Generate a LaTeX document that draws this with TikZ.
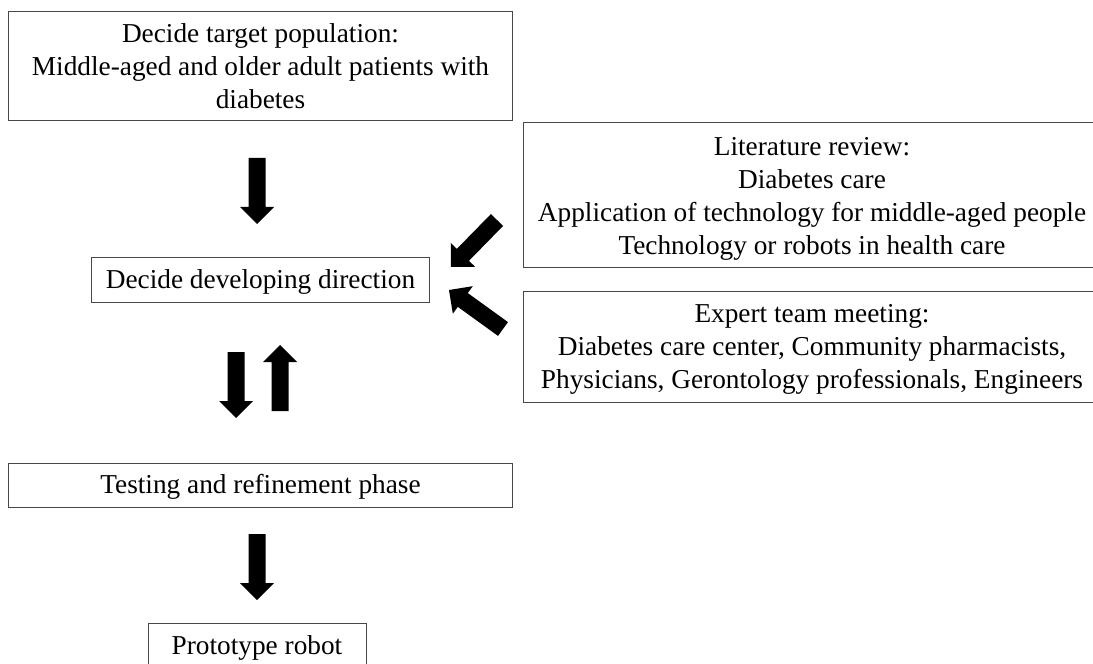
\documentclass[tikz,border=0pt]{standalone}
\usepackage{fontspec}
\setmainfont{Liberation Serif}
\usetikzlibrary{calc}
\tikzset{
  box/.style={draw=black!72, line width=1bp, inner sep=0pt, align=center,
    font=\fontsize{27.3bp}{33bp}\selectfont},
  lower/.style={execute at begin node={\rule{0pt}{#1}}},
}
\newcommand\blockarrow[3]{%
  \coordinate (#1t) at #2;
  \coordinate (#1p) at #3;
  \coordinate (#1b) at ($(#1p)!17bp!(#1t)$);
  \fill ($(#1t)!8.5bp!90:(#1p)$) -- ($(#1b)!8.5bp!90:(#1p)$) --
        ($(#1b)!17bp!90:(#1p)$) -- (#1p) -- ($(#1b)!17bp!-90:(#1p)$) --
        ($(#1b)!8.5bp!-90:(#1p)$) -- ($(#1t)!8.5bp!-90:(#1p)$) -- cycle;
}
\begin{document}
\begin{tikzpicture}[x=1bp,y=-1bp]
\clip (0,0) rectangle (1093,664);
\fill[white] (0,0) rectangle (1093,664);
\node[box, minimum width=503bp, minimum height=109bp] (pop) at (260.5,66.5)
  {Decide target population:\\Middle-aged and older adult patients with\\diabetes};
\node[box, lower=23bp, minimum width=337bp, minimum height=45bp] (dir) at (260.5,279.5)
  {Decide developing direction};
\node[box, minimum width=578bp, minimum height=144bp] (lit) at (812,195)
  {\rule{0pt}{25bp}Literature review:\\Diabetes care\\Application of technology for middle-aged people\\Technology or robots in health care};
\node[box, minimum width=578bp, minimum height=111bp] (exp) at (812,346.5)
  {\rule{0pt}{23bp}Expert team meeting:\\Diabetes care center, Community pharmacists,\\Physicians, Gerontology professionals, Engineers};
\node[box, lower=23.5bp, minimum width=503bp, minimum height=44bp] (test) at (260.5,485)
  {Testing and refinement phase};
\node[box, lower=24.5bp, minimum width=218bp, minimum height=45bp] (proto) at (257,645.5)
  {Prototype robot};
\blockarrow{a1}{(257,158)}{(257,224)}
\blockarrow{a2}{(236,352)}{(236,418)}
\blockarrow{a3}{(280,411)}{(280,345)}
\blockarrow{a4}{(257,534)}{(257,600)}
\blockarrow{a5}{(497,220)}{(451,267)}
\blockarrow{a6}{(503,329)}{(449,290)}
\end{tikzpicture}
\end{document}
